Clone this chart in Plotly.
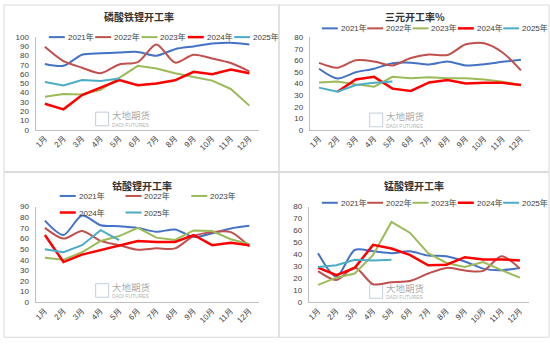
import plotly.graph_objects as go

W, H = 550, 351

months = ["1月", "2月", "3月", "4月", "5月", "6月", "7月", "8月", "9月", "10月", "11月", "12月"]
years = ["2021年", "2022年", "2023年", "2024年", "2025年"]
colors = ["#4472C4", "#C0504D", "#9BBB59", "#FF0000", "#4BACC6"]
widths = [2, 2, 2, 2.5, 2]
line_shapes = ["spline", "spline", "linear", "linear", "linear"]

titles = ["磷酸铁锂开工率", "三元开工率%", "钴酸锂开工率", "锰酸锂开工率"]

# 磷酸铁锂开工率
lfp_2021 = [71, 69, 81, 82.5, 83.5, 84, 80, 87, 90, 93, 94, 92]
lfp_2022 = [89.5, 74, 67, 61, 70.5, 73, 92, 72.5, 81, 77, 72, 63]
lfp_2023 = [35.5, 38.6, 38, 43, 56, 69, 66, 61, 57, 53, 44, 26]
lfp_2024 = [28, 22, 37.5, 45.6, 53.7, 48, 50, 53.3, 62.5, 60, 65, 61]
lfp_2025 = [51.6, 47.7, 53.7, 52.6, 55.4, None, None, None, None, None, None, None]

# 三元开工率%
ncm_2021 = [52.8, 44.4, 49.7, 52.8, 57.5, 58, 56.4, 59, 55.6, 56.7, 58.7, 60.6]
ncm_2022 = [57.8, 53.6, 60, 59, 55.6, 62, 65, 64.6, 73.8, 74.7, 66.8, 51.4]
ncm_2023 = [41, 41.8, 39.3, 37.3, 45.8, 44.6, 45.5, 44.6, 44.6, 43.5, 41.5, 38.7]
ncm_2024 = [None, 33, 43.5, 45.8, 35.6, 33.7, 41, 43, 40, 40.7, 40.7, 38.7]
ncm_2025 = [36.5, 33, 38.7, 40.7, 41.8, None, None, None, None, None, None, None]

# 钴酸锂开工率
lco_2021 = [76.8, 63.3, 81.7, 72.5, 71.6, 70, 66.3, 68.5, 61.4, 65, 69.4, 71.9]
lco_2022 = [70, 59.9, 67, 57.8, 53.7, 49.4, 50.7, 50.7, 62.3, 66, 66, 52.5]
lco_2023 = [41.8, 40, 47, 57.7, 62.3, 70, 60.8, 58.7, 67.6, 67, 59.3, 54.7]
lco_2024 = [63.3, 37.8, 44.8, 49.1, 53.1, 57.7, 56.8, 56.8, 63.3, 53.7, 55.9, 53.7]
lco_2025 = [49.8, 47, 53.7, 67.9, 58.4, None, None, None, None, None, None, None]

# 锰酸锂开工率
lmo_2021 = [41, 21.3, 43.7, 42.6, 41, 42.6, 39, 38.5, 34.1, 28.1, 26.8, 28.7]
lmo_2022 = [26, 18.6, 29, 15, 16.7, 17.7, 24, 28.7, 26.5, 26.2, 38.5, 28.1]
lmo_2023 = [14.5, 20.5, 24, 39.6, 67.2, 58.2, 41, 32.8, 29.5, 33.6, 26.8, 20.5]
lmo_2024 = [29, 22.7, 28.7, 48, 45, 39.6, 30.9, 31.4, 37.7, 35.8, 35.8, 35]
lmo_2025 = [29.5, 30.9, 35.5, 35, 35.5, None, None, None, None, None, None, None]

panels = [
    [lfp_2021, lfp_2022, lfp_2023, lfp_2024, lfp_2025],
    [ncm_2021, ncm_2022, ncm_2023, ncm_2024, ncm_2025],
    [lco_2021, lco_2022, lco_2023, lco_2024, lco_2025],
    [lmo_2021, lmo_2022, lmo_2023, lmo_2024, lmo_2025],
]
y_max = [100, 80, 90, 80]

# layout (pixels): plot left, right, top, bottom
boxes = [
    (33.7, 257.6, 34, 129),
    (309, 530, 34, 129.3),
    (33.7, 257.6, 208, 306),
    (308, 529, 208, 306),
]
title_pos = [(138, 13), (415, 13), (141, 186), (414, 186)]
# legend: start x of line, y, spacing, columns, row gap
legend_cfg = [
    (47, 34, 46.5, 5, 0),
    (321, 25, 45.5, 5, 0),
    (58, 197, 66, 3, 17),
    (321, 204, 45.5, 5, 0),
]
panel_rects = [(2, 1, 278, 172), (278, 1, 549, 172), (2, 173, 278, 342), (278, 173, 549, 342)]
panel_left = [0, 275, 0, 275]
wm_y = [116, 117, 292, 293]

FONT = "Liberation Sans, Noto Sans CJK SC, sans-serif"

def px(x):
    return x / W

def py(y):
    return 1 - y / H

fig = go.Figure()
layout = dict(
    width=W, height=H, margin=dict(l=0, r=0, t=0, b=0),
    paper_bgcolor="white", plot_bgcolor="white", showlegend=False,
    font=dict(family=FONT, size=8, color="#595959"),
)
shapes = []
annotations = []

for p in range(4):
    suffix = "" if p == 0 else str(p + 1)
    xa = "x" + suffix
    ya = "y" + suffix
    for i, vals in enumerate(panels[p]):
        fig.add_trace(go.Scatter(
            x=months, y=vals, name=years[i], mode="lines",
            line=dict(color=colors[i], width=widths[i], shape=line_shapes[i], smoothing=0.8),
            xaxis=xa, yaxis=ya, connectgaps=False,
        ))
    l, r, t, b = boxes[p]
    layout["xaxis" + suffix] = dict(
        domain=[px(l), px(r)], anchor=ya, type="category", range=[-0.5, 11.5],
        showline=True, linecolor="#bfbfbf", linewidth=1, showgrid=False, zeroline=False,
        ticks="", tickangle=-45, tickfont=dict(size=8, color="#404040"),
    )
    layout["yaxis" + suffix] = dict(
        domain=[py(b), py(t)], anchor=xa, range=[0, y_max[p]], dtick=10,
        showline=True, linecolor="#bfbfbf", linewidth=1, showgrid=False, zeroline=False,
        ticks="", tickfont=dict(size=8, color="#404040"), ticklabelstandoff=4,
    )
    # title
    tx, ty = title_pos[p]
    annotations.append(dict(
        x=px(tx), y=py(ty), xref="paper", yref="paper", text="<b>" + titles[p] + "</b>",
        showarrow=False, xanchor="center", yanchor="middle",
        font=dict(size=10, color="#333333", family="Noto Sans CJK SC, sans-serif"),
    ))
    # legend
    sx, sy, sp, cols, rg = legend_cfg[p]
    for i, name in enumerate(years):
        col = i % cols
        row = i // cols
        x0 = sx + col * sp
        yy = sy + row * rg
        shapes.append(dict(type="line", xref="paper", yref="paper",
                           x0=px(x0), x1=px(x0 + 16), y0=py(yy), y1=py(yy),
                           line=dict(color=colors[i], width=widths[i])))
        annotations.append(dict(
            x=px(x0 + 17), y=py(yy), xref="paper", yref="paper", text=name,
            showarrow=False, xanchor="left", yanchor="middle",
            font=dict(size=8, color="#404040"),
        ))
    # panel border
    x0, y0, x1, y1 = panel_rects[p]
    shapes.append(dict(type="rect", xref="paper", yref="paper",
                       x0=px(x0), x1=px(x1), y0=py(y1), y1=py(y0),
                       line=dict(color="#d9d9d9", width=1), layer="below"))
    # watermark
    pl = panel_left[p]
    wy = wm_y[p]
    shapes.append(dict(type="rect", xref="paper", yref="paper",
                       x0=px(pl + 94), x1=px(pl + 107), y0=py(wy + 9), y1=py(wy - 5),
                       line=dict(color="rgba(170,185,210,0.7)", width=1), layer="below"))
    annotations.append(dict(
        x=px(pl + 129), y=py(wy - 2), xref="paper", yref="paper", text="大地期货",
        showarrow=False, xanchor="center", yanchor="middle",
        font=dict(size=9.5, color="rgba(140,140,140,0.75)", family="Noto Sans CJK SC, sans-serif"),
    ))
    annotations.append(dict(
        x=px(pl + 129), y=py(wy + 8), xref="paper", yref="paper", text="DADI FUTURES",
        showarrow=False, xanchor="center", yanchor="middle",
        font=dict(size=5, color="rgba(150,150,150,0.75)"),
    ))

layout["shapes"] = shapes
layout["annotations"] = annotations
fig.update_layout(**layout)
fig.write_html("out.html")
